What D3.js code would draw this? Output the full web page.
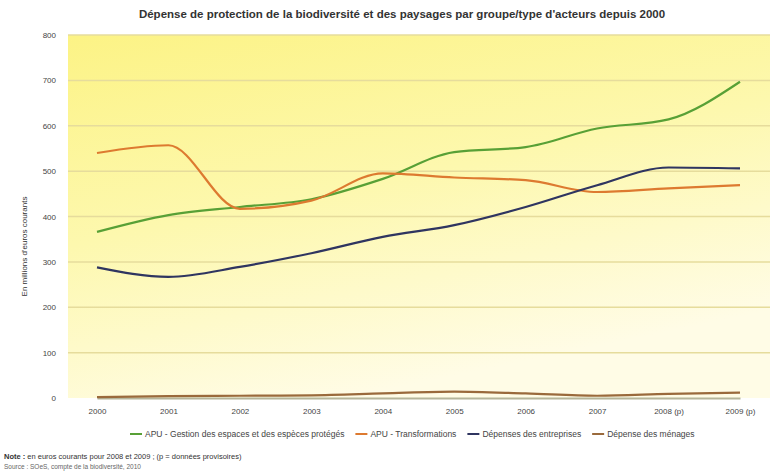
<!DOCTYPE html>
<html>
<head>
<meta charset="utf-8">
<script src="https://cdn.jsdelivr.net/npm/d3@7"></script>
<style>
  body { margin: 0; background: #fff; }
  svg { font-family: "Liberation Sans", Arial, sans-serif; }
</style>
</head>
<body>
<svg id="chart" width="778" height="472"></svg>
<script>
// années (p = provisoire)
var years = ["2000", "2001", "2002", "2003", "2004", "2005", "2006", "2007", "2008 (p)", "2009 (p)"];
var yTicks = [0, 100, 200, 300, 400, 500, 600, 700, 800];

// en millions d'euros courants
var gestion = [366, 403, 421, 438, 483, 542, 553, 594, 614, 697];
var transfo = [540, 557, 417, 435, 495, 486, 480, 454, 462, 469];
var entreprises = [288, 267, 289, 319, 355, 381, 421, 469, 508, 506];
var menages = [2, 4, 5, 6, 10, 14, 10, 5, 9, 12];

var seriesNames = [
  "APU - Gestion des espaces et des espèces protégés",
  "APU - Transformations",
  "Dépenses des entreprises",
  "Dépense des ménages"
];
var colors = ["#58a036", "#dd7a30", "#2f3560", "#9a6a3c"];

var svg = d3.select("#chart");
var margin = {top: 35, right: 8, bottom: 74, left: 68};
var w = 778 - margin.left - margin.right,
    h = 472 - margin.top - margin.bottom;

var defs = svg.append("defs");
var grad = defs.append("linearGradient").attr("id", "bg")
  .attr("x1", "0%").attr("y1", "0%").attr("x2", "40%").attr("y2", "100%");
grad.append("stop").attr("offset", "0%").attr("stop-color", "#fcf385");
grad.append("stop").attr("offset", "50%").attr("stop-color", "#fdf8ae");
grad.append("stop").attr("offset", "100%").attr("stop-color", "#fffce6");

var g = svg.append("g").attr("transform", "translate(" + margin.left + "," + margin.top + ")");

g.append("rect").attr("width", w).attr("height", h).attr("fill", "url(#bg)");

var x = d3.scalePoint().domain(years).range([29, w - 30]);
var y = d3.scaleLinear().domain([0, 800]).range([h, 0]);

// grille
g.append("g").selectAll("line").data(yTicks.slice(1)).enter().append("line")
  .attr("x1", 0).attr("x2", w)
  .attr("y1", function(d) { return y(d); }).attr("y2", function(d) { return y(d); })
  .attr("stroke", "#e6dc9c").attr("stroke-width", 1.5);

var yAxis = g.append("g").call(d3.axisLeft(y).tickValues(yTicks).tickSize(0).tickPadding(12));
yAxis.select(".domain").remove();
yAxis.selectAll("text").attr("font-size", 8).attr("fill", "#444");

var xAxis = g.append("g").attr("transform", "translate(0," + h + ")")
  .call(d3.axisBottom(x).tickSize(0).tickPadding(10));
xAxis.select(".domain").attr("stroke", "#b5b59a").attr("stroke-width", 2);
xAxis.selectAll("text").attr("font-size", 8).attr("fill", "#444");

var line = d3.line()
  .x(function(d, i) { return x(years[i]); })
  .y(function(d) { return y(d); })
  .curve(d3.curveMonotoneX);

var allSeries = [gestion, transfo, entreprises, menages];
g.selectAll("path.serie").data(allSeries).enter().append("path")
  .attr("class", "serie")
  .attr("d", line)
  .attr("fill", "none")
  .attr("stroke", function(d, i) { return colors[i]; })
  .attr("stroke-width", 2.2);

// titre
svg.append("text").attr("x", 402).attr("y", 18).attr("text-anchor", "middle")
  .attr("font-size", 11.5).attr("font-weight", "bold").attr("fill", "#333")
  .text("Dépense de protection de la biodiversité et des paysages par groupe/type d'acteurs depuis 2000");

// titre axe y
svg.append("text").attr("transform", "translate(27," + (margin.top + h / 2 + 30) + ") rotate(-90)")
  .attr("text-anchor", "middle").attr("font-size", 8).attr("fill", "#333")
  .text("En millions d'euros courants");

// légende
var legend = svg.append("g").attr("transform", "translate(0,437)");
var lx = 130;
seriesNames.forEach(function(name, i) {
  legend.append("line").attr("x1", lx).attr("x2", lx + 12).attr("y1", -3).attr("y2", -3)
    .attr("stroke", colors[i]).attr("stroke-width", 2);
  var t = legend.append("text").attr("x", lx + 15).attr("y", 0)
    .attr("font-size", 8.5).attr("fill", "#444").text(name);
  lx += t.node().getComputedTextLength() + 26;
});

// notes
svg.append("text").attr("x", 4).attr("y", 459).attr("font-size", 7.5).attr("fill", "#333")
  .html("<tspan font-weight='bold'>Note :</tspan> en euros courants pour 2008 et 2009 ; (p = données provisoires)");
svg.append("text").attr("x", 4).attr("y", 469).attr("font-size", 6.5).attr("fill", "#666")
  .text("Source : SOeS, compte de la biodiversité, 2010");
</script>
</body>
</html>
